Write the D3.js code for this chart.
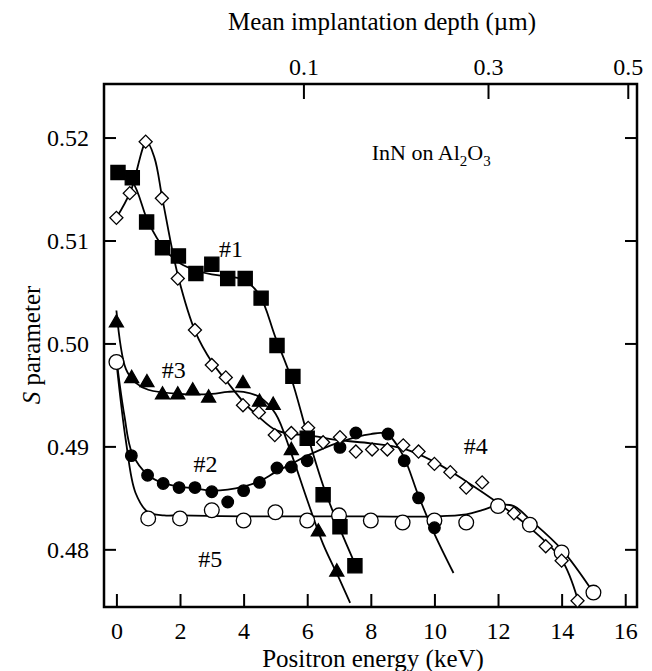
<!DOCTYPE html>
<html>
  <head>
    <meta charset="utf-8">
    <title>S parameter vs positron energy</title>
    <style>
      body { margin: 0; background: #fff; }
      svg text { font-family: "Liberation Serif", "Times New Roman", serif; fill: #000; }
    </style>
  </head>
  <body>
<svg width="652" height="671"></svg>
<script src="https://cdn.jsdelivr.net/npm/d3@7/dist/d3.min.js"></script>
<script>

// measured points, [energy keV, S]
var squares = [[0.05,0.5166],[0.5,0.5161],[0.95,0.5118],[1.45,0.5093],[1.95,0.5085],[2.5,0.5068],[3.0,0.5077],
  [3.5,0.5063],[4.05,0.5063],[4.55,0.5044],[5.05,0.4998],[5.55,0.4968],[6.0,0.4908],[6.5,0.4853],[7.03,0.4822],[7.5,0.4784]];
var diamonds = [[0,0.5122],[0.42,0.5146],[0.92,0.5196],[1.43,0.5141],[1.93,0.5063],[2.47,0.5013],[3.0,0.4979],
  [3.44,0.4967],[3.98,0.4940],[4.48,0.4933],[4.98,0.4911],[5.5,0.4913],[6.03,0.4918],[6.5,0.4904],[7.03,0.4909],
  [7.53,0.4895],[8.04,0.4897],[8.52,0.4897],[9.02,0.4901],[9.5,0.4895],[10.0,0.4883],[10.5,0.4875],[11.0,0.4860],
  [11.5,0.4865],[12.5,0.4835],[13.5,0.4803],[14.0,0.4789],[14.5,0.4750]];
var triangles = [[0,0.5020],[0.48,0.4966],[0.96,0.4962],[1.45,0.4950],[1.93,0.4950],[2.4,0.4954],[2.9,0.4947],
  [3.98,0.4961],[4.5,0.4943],[4.93,0.4940],[5.5,0.4896],[6.35,0.4817],[6.93,0.4778]];
var dots = [[0.47,0.4891],[0.98,0.4872],[1.47,0.4864],[1.97,0.4860],[2.47,0.4860],[3.0,0.4856],[3.5,0.4846],
  [4.0,0.4857],[4.5,0.4865],[5.05,0.4879],[5.5,0.4880],[6.0,0.4886],[7.03,0.4899],[7.53,0.4913],[8.54,0.4912],
  [9.05,0.4886],[9.5,0.4850],[10.0,0.4821]];
var rings = [[0,0.4982],[1.0,0.4830],[2.0,0.4830],[3.0,0.4838],[4.0,0.4828],[5.0,0.4836],[6.0,0.4828],[7.0,0.4833],
  [8.0,0.4828],[9.0,0.4826],[10.0,0.4828],[11.0,0.4826],[12.0,0.4842],[13.0,0.4824],[14.0,0.4797],[15.0,0.4758]];

// fitted curves
var fit1 = [[0,0.5168],[0.5,0.5157],[1.0,0.5118],[1.5,0.5092],[2.0,0.5078],[2.5,0.5071],[3.0,0.5067],[3.5,0.5065],
  [4.0,0.5062],[4.5,0.5047],[5.0,0.5006],[5.5,0.4966],[6.0,0.4912],[6.5,0.4862],[7.0,0.4822],[7.5,0.4786]];
var fit2 = [[0,0.4985],[0.25,0.4930],[0.5,0.4893],[1.0,0.4872],[1.5,0.4864],[2.0,0.4861],[2.5,0.4859],[3.0,0.4857],
  [3.5,0.4858],[4.0,0.4861],[4.5,0.4866],[5.0,0.4875],[5.5,0.4883],[6.0,0.4891],[7.0,0.4904],[8.0,0.4912],
  [8.5,0.4912],[9.0,0.4892],[9.5,0.4852],[10.0,0.4815],[10.6,0.4777]];
var fit3 = [[0,0.5032],[0.3,0.4975],[0.6,0.4962],[1.0,0.4955],[2.0,0.4951],[3.0,0.4951],[3.5,0.4953],[4.0,0.4953],
  [4.5,0.4948],[5.0,0.4932],[5.5,0.4893],[6.0,0.4848],[6.5,0.4805],[7.0,0.4772],[7.35,0.4748]];
var fit4 = [[0,0.5122],[0.45,0.5148],[0.95,0.5196],[1.2,0.5180],[1.45,0.5140],[1.95,0.5064],[2.5,0.5010],[3.0,0.4982],
  [3.5,0.4962],[4.0,0.4943],[4.5,0.4928],[5.0,0.4916],[5.5,0.4912],[6.0,0.4911],[7.0,0.4906],[8.0,0.4903],
  [9.0,0.4898],[10.0,0.4885],[11.0,0.4866],[12.0,0.4845],[13.0,0.4821],[14.0,0.4790],[14.5,0.4752]];
var fit5 = [[0,0.4982],[0.3,0.4905],[0.6,0.4855],[1.0,0.4836],[1.5,0.4833],[2,0.4833],[4,0.4832],[6,0.4832],
  [8,0.4832],[10,0.4832],[11,0.4834],[11.5,0.4838],[12,0.4843],[12.5,0.4842],[13,0.4829],[14,0.4800],[15,0.4758]];

var energyTicks = [0,2,4,6,8,10,12,14,16];
var sTicks = [0.48,0.49,0.50,0.51,0.52];
var depthTicks = [0.1,0.3,0.5];
var labels = [["#1",3.6,0.5084],["#2",2.8,0.4875],["#3",1.8,0.4966],["#4",11.3,0.4893],["#5",2.95,0.4783]];

// mean depth (um) -> energy (keV), z = 40/rho * E^1.6 nm, rho = 6.81
function depthToEnergy(z) { return Math.pow(z * 1000 / (40 / 6.81), 1 / 1.6); }

var svg = d3.select("svg"),
    margin = {top: 84, left: 104},
    width = 533,
    height = 523,
    g = svg.append("g").attr("transform", "translate(" + margin.left + "," + margin.top + ")");

var x = d3.scaleLinear().domain([-0.39, 16.37]).range([0, width]);
var y = d3.scaleLinear().domain([0.4744, 0.5252]).range([height, 0]);

var fs = "24px";

g.append("g")
    .attr("transform", "translate(0," + height + ")")
    .call(d3.axisBottom(x).tickValues(energyTicks).tickSizeInner(-13).tickSizeOuter(0).tickPadding(15))
    .call(function(a) { a.select(".domain").remove(); a.selectAll("text").style("font-size", fs); });

g.append("g")
    .call(d3.axisTop(x).tickValues(depthTicks.map(depthToEnergy)).tickSizeInner(-15).tickSizeOuter(0).tickPadding(9)
      .tickFormat(function(d, i) { return depthTicks[i]; }))
    .call(function(a) { a.select(".domain").remove(); a.selectAll("text").style("font-size", fs); });

g.append("g")
    .call(d3.axisLeft(y).tickValues(sTicks).tickSizeInner(-12).tickSizeOuter(0).tickPadding(15).tickFormat(d3.format(".2f")))
    .call(function(a) { a.select(".domain").remove(); a.selectAll("text").style("font-size", fs); });

g.append("g")
    .attr("transform", "translate(" + width + ",0)")
    .call(d3.axisRight(y).tickValues(sTicks).tickSizeInner(-12).tickSizeOuter(0).tickFormat(""))
    .select(".domain").remove();

g.selectAll(".tick line").attr("stroke", "#000").attr("stroke-width", 2);

g.append("rect")
    .attr("width", width)
    .attr("height", height)
    .attr("fill", "none")
    .attr("stroke", "#000")
    .attr("stroke-width", 2.5);

var line = d3.line()
    .x(function(d) { return x(d[0]); })
    .y(function(d) { return y(d[1]); })
    .curve(d3.curveCatmullRom);

[fit1, fit2, fit3, fit4, fit5].forEach(function(f) {
  g.append("path")
      .datum(f)
      .attr("fill", "none")
      .attr("stroke", "#000")
      .attr("stroke-width", 1.8)
      .attr("d", line);
});

function markers(data, type, size, fill, rotate) {
  g.append("g").selectAll("path")
    .data(data)
    .enter().append("path")
      .attr("d", d3.symbol().type(type).size(size))
      .attr("transform", function(d) { return "translate(" + x(d[0]) + "," + y(d[1]) + ")" + (rotate ? " rotate(45)" : ""); })
      .attr("fill", fill)
      .attr("stroke", "#000")
      .attr("stroke-width", 1.3);
}

markers(rings, d3.symbolCircle, 170, "#fff");
markers(dots, d3.symbolCircle, 105, "#000");
markers(triangles, d3.symbolTriangle, 85, "#000");
markers(diamonds, d3.symbolSquare, 85, "#fff", true);
markers(squares, d3.symbolSquare, 200, "#000");

g.selectAll(".label")
  .data(labels)
  .enter().append("text")
    .attr("x", function(d) { return x(d[1]); })
    .attr("y", function(d) { return y(d[2]); })
    .attr("text-anchor", "middle")
    .style("font-size", fs)
    .text(function(d) { return d[0]; });

var inn = g.append("text")
    .attr("x", x(9.9))
    .attr("y", y(0.5178))
    .attr("text-anchor", "middle")
    .style("font-size", "22px");
inn.append("tspan").text("InN on Al");
inn.append("tspan").attr("dy", 6).style("font-size", "15px").text("2");
inn.append("tspan").attr("dy", -6).text("O");
inn.append("tspan").attr("dy", 6).style("font-size", "15px").text("3");

svg.append("text")
    .attr("x", 373)
    .attr("y", 667)
    .attr("text-anchor", "middle")
    .style("font-size", "25px")
    .text("Positron energy (keV)");

svg.append("text")
    .attr("x", 382)
    .attr("y", 30)
    .attr("text-anchor", "middle")
    .style("font-size", "25px")
    .text("Mean implantation depth (\u00b5m)");

var yt = svg.append("text")
    .attr("transform", "translate(40,345) rotate(-90)")
    .attr("text-anchor", "middle")
    .style("font-size", "25px");
yt.append("tspan").style("font-style", "italic").text("S");
yt.append("tspan").text(" parameter");

</script>
  </body>
</html>
